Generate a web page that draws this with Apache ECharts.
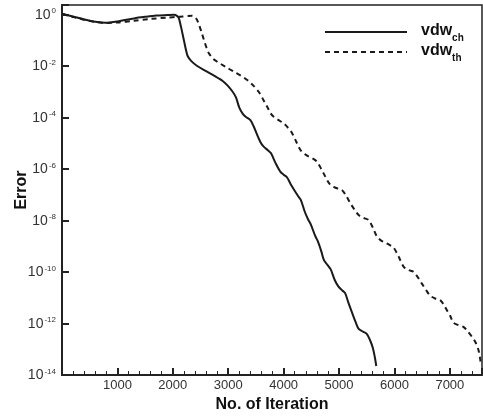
<!DOCTYPE html>
<html>
<head>
<meta charset="utf-8">
<script src="https://cdn.jsdelivr.net/npm/echarts@6/dist/echarts.min.js"></script>
<style>
  html, body { margin: 0; padding: 0; background: #fff; }
  #chart { width: 483px; height: 416px; }
</style>
</head>
<body>
<div id="chart"></div>
<script>
// iteration counts and error exponents (log10)
const iterCh = [15, 200, 400, 600, 790, 1000, 1300, 1500, 1700, 1900, 2020, 2080, 2110, 2150, 2200, 2240, 2270, 2330, 2440, 2600, 2750, 2900, 2990, 3080, 3140, 3200, 3260, 3320, 3400, 3460, 3580, 3640, 3720, 3770, 3850, 3940, 4000, 4060, 4130, 4260, 4310, 4380, 4440, 4490, 4570, 4620, 4680, 4730, 4790, 4850, 4920, 4990, 5060, 5110, 5170, 5230, 5300, 5350, 5420, 5500, 5560, 5610, 5645, 5672];
const expCh = [0.02, -0.08, -0.19, -0.28, -0.32, -0.27, -0.15, -0.09, -0.04, -0.02, -0.01, -0.06, -0.15, -0.5, -1.0, -1.4, -1.62, -1.8, -2.0, -2.2, -2.38, -2.58, -2.76, -3.0, -3.22, -3.62, -3.85, -3.98, -4.1, -4.35, -4.95, -5.13, -5.28, -5.38, -5.75, -6.1, -6.22, -6.32, -6.6, -7.05, -7.2, -7.65, -7.95, -8.15, -8.6, -8.82, -9.2, -9.55, -9.72, -9.9, -10.3, -10.57, -10.72, -10.82, -11.2, -11.55, -11.95, -12.2, -12.3, -12.4, -12.65, -12.95, -13.3, -13.65];

const iterTh = [15, 200, 400, 600, 790, 1000, 1300, 1600, 1900, 2100, 2350, 2420, 2470, 2520, 2562, 2610, 2650, 2720, 2800, 2950, 3100, 3230, 3342, 3450, 3550, 3630, 3703, 3770, 3822, 3910, 4002, 4080, 4153, 4230, 4303, 4380, 4453, 4530, 4603, 4680, 4753, 4830, 4903, 4980, 5054, 5130, 5204, 5280, 5353, 5440, 5534, 5610, 5685, 5760, 5834, 5910, 5984, 6075, 6164, 6250, 6344, 6420, 6495, 6570, 6645, 6735, 6825, 6885, 6945, 7005, 7065, 7150, 7245, 7320, 7396, 7460, 7516, 7545, 7565];
const expTh = [0.02, -0.1, -0.2, -0.29, -0.33, -0.31, -0.24, -0.17, -0.12, -0.09, -0.05, -0.15, -0.38, -0.7, -0.99, -1.3, -1.5, -1.7, -1.83, -2.03, -2.22, -2.38, -2.54, -2.75, -3.0, -3.3, -3.58, -3.85, -3.97, -4.1, -4.23, -4.4, -4.61, -4.95, -5.26, -5.42, -5.52, -5.6, -5.72, -6.0, -6.3, -6.58, -6.69, -6.76, -6.82, -7.05, -7.33, -7.58, -7.79, -7.9, -7.98, -8.28, -8.63, -8.78, -8.86, -8.95, -9.05, -9.4, -9.79, -9.92, -9.99, -10.2, -10.45, -10.7, -10.92, -11.03, -11.09, -11.25, -11.48, -11.7, -11.97, -12.06, -12.13, -12.3, -12.51, -12.72, -13.03, -13.35, -13.65];

const xTicks = [1000, 2000, 3000, 4000, 5000, 6000, 7000];

const toPairs = (xs, es) => xs.map((x, i) => [x, Math.pow(10, es[i])]);

const chart = echarts.init(document.getElementById('chart'));

// legend names with subscripts
const legendRich = {
    b: { fontFamily: 'Liberation Sans, Arial', fontWeight: 'bold', fontSize: 16, color: '#111', lineHeight: 18, verticalAlign: 'top', padding: [0, 0, 0, 9] },
    s: { fontFamily: 'Liberation Sans, Arial', fontWeight: 'bold', fontSize: 10, color: '#111', lineHeight: 10, verticalAlign: 'top', padding: [10, 0, 0, 0] }
};

const option = {
    animation: false,
    backgroundColor: '#fff',
    grid: {
        left: 62, right: 1, top: 5, bottom: 41,
        containLabel: false,
        outerBoundsMode: 'none',
        show: true, borderColor: '#222', borderWidth: 1.5, backgroundColor: 'transparent'
    },
    legend: {
        orient: 'vertical',
        left: 324,
        top: 23,
        padding: 0,
        itemGap: 0,
        itemWidth: 82,
        itemHeight: 14,
        itemStyle: { opacity: 0 },
        data: ['vdw_ch', 'vdw_th'],
        formatter: function (name) {
            const parts = name.split('_');
            return '{b|' + parts[0] + '}{s|' + parts[1] + '}';
        },
        textStyle: { rich: legendRich }
    },
    xAxis: {
        type: 'value',
        min: 0,
        max: 7580,
        interval: 1000,
        name: 'No. of Iteration',
        nameLocation: 'middle',
        nameGap: 22,
        nameMoveOverlap: false,
        nameTextStyle: { fontFamily: 'Liberation Sans, Arial', fontWeight: 'bold', fontSize: 16, color: '#111' },
        axisLine: { show: true, lineStyle: { color: '#222', width: 2 } },
        axisTick: { show: true, inside: true, length: 7, lineStyle: { color: '#222', width: 2 } },
        minorTick: { show: true, splitNumber: 5, length: 4, lineStyle: { color: '#222', width: 1 } },
        splitLine: { show: false },
        axisLabel: {
            margin: 4,
            fontFamily: 'Liberation Sans, Arial',
            fontSize: 13,
            color: '#333',
            formatter: function (v) { return xTicks.indexOf(v) >= 0 ? String(v) : ''; }
        }
    },
    yAxis: {
        type: 'log',
        logBase: 10,
        min: 1e-14,
        max: Math.pow(10, 0.37),
        interval: 2,
        name: 'Error',
        nameLocation: 'middle',
        nameGap: 32,
        nameMoveOverlap: false,
        nameTextStyle: { fontFamily: 'Liberation Sans, Arial', fontWeight: 'bold', fontSize: 16, color: '#111' },
        axisLine: { show: true, lineStyle: { color: '#222', width: 2 } },
        axisTick: { show: true, inside: true, length: 7, lineStyle: { color: '#222', width: 2 } },
        minorTick: { show: false },
        splitLine: { show: false },
        axisLabel: {
            margin: 6,
            formatter: function (v) {
                const l = Math.log10(v);
                const e = Math.round(l);
                if (Math.abs(l - e) > 1e-6 || e % 2 !== 0) return '';
                return '{b|10}{s|' + e + '}';
            },
            rich: {
                b: { fontFamily: 'Liberation Sans, Arial', fontSize: 14, color: '#333', lineHeight: 15, verticalAlign: 'bottom' },
                s: { fontFamily: 'Liberation Sans, Arial', fontSize: 8, color: '#333', lineHeight: 15, verticalAlign: 'top', padding: [0, 0, 6, 1] }
            }
        }
    },
    series: [
        {
            name: 'vdw_ch',
            type: 'line',
            data: toPairs(iterCh, expCh),
            symbol: 'none',
            smooth: 0.3,
            lineStyle: { color: '#1a1a1a', width: 2, type: 'solid' },
            itemStyle: { color: '#1a1a1a' }
        },
        {
            name: 'vdw_th',
            type: 'line',
            data: toPairs(iterTh, expTh),
            symbol: 'none',
            smooth: 0.3,
            lineStyle: { color: '#1a1a1a', width: 2, type: [5, 4] },
            itemStyle: { color: '#1a1a1a' }
        }
    ]
};

chart.setOption(option);
</script>
</body>
</html>
